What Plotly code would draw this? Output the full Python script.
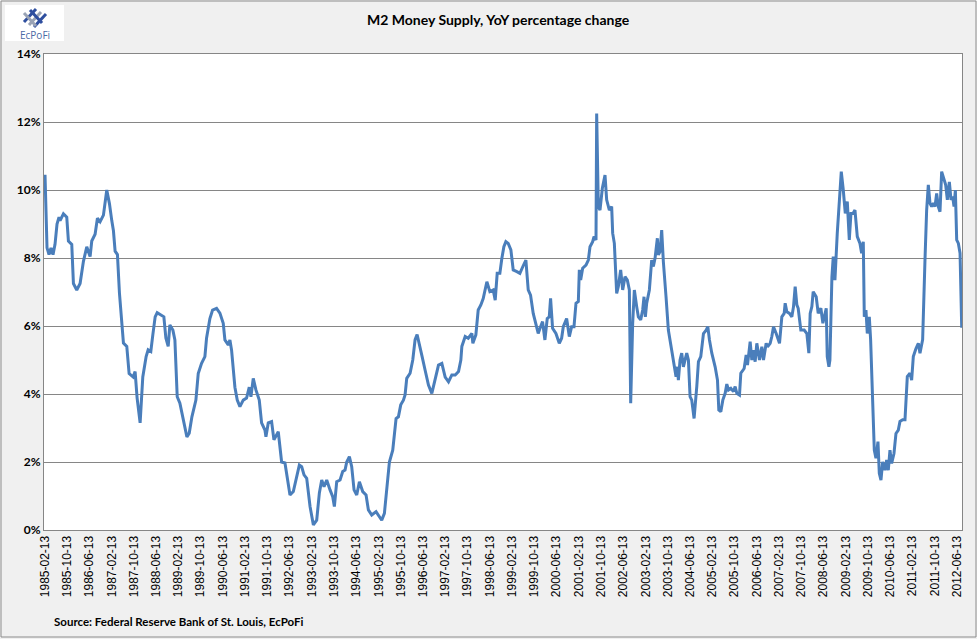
import pandas as pd
import plotly.graph_objects as go

# Decimal years of the readings and M2 YoY % change
years = [
    1985.118, 1985.148, 1985.178, 1985.238, 1985.298, 1985.358, 1985.418, 1985.478, 1985.538,
    1985.57, 1985.67, 1985.77, 1985.82, 1985.92, 1985.97, 1986.07, 1986.17, 1986.27, 1986.37,
    1986.47, 1986.52, 1986.62, 1986.69, 1986.77, 1986.87, 1986.97, 1987.05, 1987.12, 1987.17,
    1987.22, 1987.29, 1987.35, 1987.47, 1987.57, 1987.64, 1987.76, 1987.82, 1987.88, 1987.97,
    1988.05, 1988.15, 1988.21, 1988.29, 1988.35, 1988.42, 1988.48, 1988.62, 1988.68, 1988.74,
    1988.81, 1988.86, 1988.95, 1989.01, 1989.08, 1989.16, 1989.26, 1989.37, 1989.44, 1989.52,
    1989.64, 1989.71, 1989.81, 1989.91, 1989.96, 1990.06, 1990.14, 1990.26, 1990.36,
    1990.46, 1990.51, 1990.61, 1990.66, 1990.71, 1990.81, 1990.88, 1990.96, 1991.06, 1991.16,
    1991.24, 1991.29, 1991.36, 1991.44, 1991.54, 1991.61, 1991.71, 1991.74, 1991.81, 1991.91,
    1991.98, 1992.11, 1992.21, 1992.31, 1992.38, 1992.46, 1992.56, 1992.66, 1992.74, 1992.81,
    1992.88, 1992.96, 1993.06, 1993.16, 1993.26, 1993.34, 1993.41, 1993.48, 1993.56, 1993.66,
    1993.74, 1993.79, 1993.86, 1993.96, 1994.04, 1994.11, 1994.16, 1994.24, 1994.31, 1994.38,
    1994.46, 1994.54,
    1994.64, 1994.74, 1994.81, 1994.91, 1995.04, 1995.14, 1995.21, 1995.29, 1995.36, 1995.44,
    1995.54, 1995.64, 1995.71, 1995.78, 1995.86, 1995.91, 1995.96, 1996.06, 1996.14, 1996.21,
    1996.27, 1996.34, 1996.42, 1996.51, 1996.61, 1996.71, 1996.81, 1996.91, 1997.01, 1997.11,
    1997.21, 1997.31, 1997.41, 1997.51, 1997.58,
    1997.61, 1997.71, 1997.80, 1997.91, 1997.94, 1998.03, 1998.10, 1998.18, 1998.25, 1998.36,
    1998.45, 1998.55, 1998.61, 1998.67, 1998.75, 1998.81, 1998.87, 1998.93, 1999.00, 1999.08,
    1999.15, 1999.26, 1999.35, 1999.44, 1999.53, 1999.60, 1999.67, 1999.75, 1999.83, 1999.90,
    1999.97, 2000.03, 2000.10, 2000.17, 2000.23, 2000.27, 2000.33, 2000.43, 2000.53, 2000.60,
    2000.65, 2000.75, 2000.83, 2000.90, 2000.97, 2001.03, 2001.10, 2001.13, 2001.17, 2001.23,
    2001.33, 2001.40, 2001.45, 2001.53, 2001.57, 2001.63, 2001.65, 2001.70, 2001.75, 2001.82,
    2001.90, 2001.95, 2002.03, 2002.10, 2002.13, 2002.18, 2002.25, 2002.30, 2002.37, 2002.43,
    2002.50, 2002.57, 2002.63, 2002.67, 2002.73, 2002.78, 2002.85, 2002.90, 2002.97, 2003.03,
    2003.07, 2003.11, 2003.15, 2003.23, 2003.30, 2003.35, 2003.40, 2003.47, 2003.50, 2003.55,
    2003.60, 2003.65, 2003.73, 2003.80, 2003.90, 2003.97, 2004.03, 2004.07, 2004.10, 2004.15,
    2004.20, 2004.25, 2004.30, 2004.35, 2004.40, 2004.45, 2004.50, 2004.57, 2004.65, 2004.70,
    2004.77, 2004.85, 2004.93, 2004.98, 2005.03, 2005.10, 2005.20, 2005.27, 2005.31, 2005.37,
    2005.43, 2005.50, 2005.55, 2005.60, 2005.67, 2005.75, 2005.80, 2005.85, 2005.93, 2005.97,
    2006.07, 2006.13, 2006.17, 2006.25, 2006.30, 2006.35, 2006.40, 2006.45, 2006.53, 2006.60,
    2006.65, 2006.73, 2006.77, 2006.85, 2006.90, 2006.95, 2007.03, 2007.13, 2007.20, 2007.27,
    2007.30, 2007.35, 2007.43, 2007.50, 2007.55, 2007.60, 2007.65, 2007.69, 2007.77, 2007.87,
    2007.95, 2008.01, 2008.05, 2008.10, 2008.14, 2008.23, 2008.29, 2008.37, 2008.43, 2008.53,
    2008.56, 2008.61, 2008.64, 2008.70, 2008.74, 2008.79, 2008.86, 2008.92, 2008.98, 2009.04,
    2009.10, 2009.16, 2009.22, 2009.27, 2009.33, 2009.39, 2009.46, 2009.54, 2009.59, 2009.64,
    2009.67, 2009.72, 2009.76, 2009.82, 2009.86, 2009.92, 2009.97, 2010.02, 2010.08, 2010.12,
    2010.17, 2010.22, 2010.29, 2010.34, 2010.39, 2010.44, 2010.49, 2010.56, 2010.62, 2010.69,
    2010.74, 2010.82, 2010.89, 2010.96, 2011.04, 2011.09, 2011.14, 2011.22, 2011.29, 2011.34,
    2011.42, 2011.49, 2011.54, 2011.59, 2011.64, 2011.69, 2011.74, 2011.79, 2011.84, 2011.89,
    2011.94, 2011.99, 2012.04, 2012.11, 2012.16, 2012.22, 2012.27, 2012.32, 2012.36, 2012.40,
    2012.44, 2012.49, 2012.54, 2012.59,
]

yoy = [
    10.45, 9.5, 8.3, 8.1, 8.3, 8.1, 8.4, 9.0, 9.2,
    9.1, 9.3, 9.2, 8.5, 8.4, 7.25, 7.06, 7.25, 7.9, 8.33,
    8.04, 8.5, 8.7, 9.17, 9.07, 9.26, 10.0, 9.6, 9.1, 8.8,
    8.2, 8.1, 6.97, 5.5, 5.4, 4.6, 4.5, 4.66, 3.88, 3.15,
    4.5, 5.1, 5.3, 5.25, 5.74, 6.27, 6.39, 6.32, 6.27, 5.65,
    5.4, 6.03, 5.88, 5.59, 3.92, 3.73, 3.24, 2.74, 2.85, 3.33,
    3.82, 4.6, 4.9, 5.1, 5.65, 6.22, 6.47, 6.52, 6.38,
    6.08, 5.59, 5.44, 5.59, 5.29, 4.2, 3.82, 3.63, 3.82, 3.88,
    4.2, 3.92, 4.46, 4.12, 3.82, 3.15, 2.94, 2.74, 3.15, 3.19,
    2.65, 2.89, 2.0, 1.97, 1.57, 1.03, 1.13, 1.57, 1.91, 1.86,
    1.62, 1.52, 0.69, 0.15, 0.29, 1.09, 1.47, 1.27, 1.47, 1.18,
    0.98, 0.69, 1.42, 1.47, 1.72, 1.76, 2.0, 2.16, 1.86, 1.18,
    1.03, 1.42,
    1.13, 1.03, 0.59, 0.44, 0.54, 0.39, 0.29, 0.49, 1.18, 2.0,
    2.35, 3.28, 3.33, 3.68, 3.82, 3.97, 4.46, 4.61, 5.0, 5.6,
    5.75, 5.4, 5.1, 4.7, 4.26, 4.02, 4.41, 4.85, 4.9, 4.5,
    4.36, 4.56, 4.56, 4.66, 5.0,
    5.4, 5.69, 5.64, 5.78, 5.49, 5.74, 6.47, 6.62, 6.81, 7.3,
    7.01, 7.06, 6.76, 7.55, 7.55, 7.99, 8.33, 8.48, 8.43, 8.24,
    7.65, 7.6, 7.55, 7.75, 7.94, 7.06, 6.91, 6.37, 6.08, 5.78,
    5.98, 6.13, 5.59, 6.22, 6.27, 6.81, 5.93, 5.78, 5.49, 5.64,
    5.98, 6.22, 5.69, 5.98, 5.98, 6.67, 6.72, 7.65, 7.35, 7.7,
    7.79, 7.94, 8.33, 8.48, 8.63, 8.53, 12.25, 9.51, 9.41, 10.05,
    10.44, 9.71, 9.41, 9.51, 8.73, 8.43, 6.96, 7.16, 7.65, 7.06,
    7.45, 7.35, 7.06, 3.73, 6.08, 7.06, 6.57, 6.27, 6.18, 6.47,
    6.86, 6.27, 6.67, 7.06, 7.94, 7.75, 7.99, 8.58, 8.09, 8.19,
    8.82, 7.89, 6.86, 5.88, 5.29, 4.8, 4.51, 4.8, 4.41, 5.0,
    5.2, 4.8, 5.0, 5.2, 5.0, 3.92, 3.82, 3.28, 4.22, 4.95,
    5.1, 5.78, 5.88, 5.98, 5.59, 5.2, 4.8, 4.41, 3.53, 3.48,
    3.82, 4.02, 4.29, 4.12, 4.17, 4.07, 4.22, 4.02, 3.97, 4.61,
    4.75, 5.15, 4.85, 5.54, 5.0, 5.29, 4.95, 5.49, 5.0, 5.39,
    5.0, 5.49, 5.39, 5.49, 5.69, 5.98, 5.78, 5.49, 6.27, 6.37,
    6.67, 6.42, 6.37, 6.27, 6.57, 7.16, 6.62, 6.52, 5.88, 5.88,
    5.78, 5.2, 6.37, 6.57, 7.01, 6.86, 6.37, 6.52, 6.08, 6.52,
    5.1, 4.8, 5.0, 7.45, 8.04, 7.35, 8.73, 9.51, 10.54, 10.0,
    9.31, 9.66, 8.53, 9.31, 9.31, 9.41, 8.63, 8.43, 8.14, 8.48,
    6.27, 6.47, 5.78, 6.27, 5.59, 3.82, 2.35, 2.11, 2.6, 1.67,
    1.47, 2.0, 1.76, 2.06, 1.76, 2.35, 1.96, 2.25, 2.84, 2.94,
    3.19, 3.24, 3.24, 4.51, 4.61, 4.41, 5.1, 5.34, 5.49, 5.2,
    5.6, 7.94, 9.41, 10.15, 9.61, 9.51, 9.61, 9.51, 9.9, 9.51,
    9.36, 10.54, 10.39, 10.15, 9.71, 10.24, 9.71, 9.8, 9.51, 10.0,
    8.53, 8.43, 8.14, 5.95,
]

tick_labels = [
    "1985-02-13", "1985-10-13", "1986-06-13", "1987-02-13", "1987-10-13", "1988-06-13",
    "1989-02-13", "1989-10-13", "1990-06-13", "1991-02-13", "1991-10-13", "1992-06-13",
    "1993-02-13", "1993-10-13", "1994-06-13", "1995-02-13", "1995-10-13", "1996-06-13",
    "1997-02-13", "1997-10-13", "1998-06-13", "1999-02-13", "1999-10-13", "2000-06-13",
    "2001-02-13", "2001-10-13", "2002-06-13", "2003-02-13", "2003-10-13", "2004-06-13",
    "2005-02-13", "2005-10-13", "2006-06-13", "2007-02-13", "2007-10-13", "2008-06-13",
    "2009-02-13", "2009-10-13", "2010-06-13", "2011-02-13", "2011-10-13", "2012-06-13",
]

title_text = "M2 Money Supply, YoY percentage change"
source_text = "Source: Federal Reserve Bank of St. Louis, EcPoFi"


def to_date(y):
    yr = int(y)
    start = pd.Timestamp(yr, 1, 1)
    end = pd.Timestamp(yr + 1, 1, 1)
    return start + (end - start) * (y - yr)


dates = [to_date(y) for y in years]

fig = go.Figure()
fig.add_trace(go.Scatter(
    x=dates, y=yoy, mode="lines",
    line=dict(color="#4a7ebb", width=3),
    hoverinfo="x+y", showlegend=False,
))

W, H = 977, 639
L, R, T, B = 44, 15, 54, 109
pw, ph = W - L - R, H - T - B


def px(xp):
    return (xp - L) / pw


def py(yp):
    return (H - B - yp) / ph


shapes = [
    # outer chart border
    dict(type="rect", xref="paper", yref="paper", x0=px(1), x1=px(976), y0=py(637), y1=py(1),
         line=dict(color="#8c8c8c", width=1), layer="below"),
    # logo box
    dict(type="rect", xref="paper", yref="paper", x0=px(5), x1=px(64), y0=py(41), y1=py(5),
         line=dict(width=0), fillcolor="white", layer="below"),
]
# simple logo glyph
for (x0, y0, x1, y1, c) in [
    (24, 22, 36, 9, "#2f4f9f"), (29, 25, 41, 12, "#9aa3b5"), (34, 27, 46, 14, "#2f4f9f"),
    (24, 13, 36, 26, "#9aa3b5"), (30, 10, 42, 23, "#2f4f9f"),
]:
    shapes.append(dict(type="line", xref="paper", yref="paper",
                       x0=px(x0), y0=py(y0), x1=px(x1), y1=py(y1),
                       line=dict(color=c, width=3)))

annotations = [
    dict(text=title_text, xref="paper", yref="paper", x=px(498), y=py(19),
         showarrow=False, font=dict(family="Lato", size=14, color="black", weight="bold"),
         xanchor="center", yanchor="middle"),
    dict(text=source_text, xref="paper", yref="paper", x=px(52), y=py(621),
         showarrow=False, font=dict(family="Lato", size=11.5, color="black", weight="bold"),
         xanchor="left", yanchor="middle"),
    dict(text="EcPoFi", xref="paper", yref="paper", x=px(34.5), y=py(35),
         showarrow=False, font=dict(family="Open Sans", size=10, color="#4a6aa5"),
         xanchor="center", yanchor="middle"),
]

fig.update_layout(
    width=W, height=H,
    margin=dict(l=L, r=R, t=T, b=B, pad=0),
    paper_bgcolor="#f0f0f0",
    plot_bgcolor="white",
    shapes=shapes,
    annotations=annotations,
    xaxis=dict(
        type="date",
        range=["1985-02-02", "2012-08-07"],
        tickvals=tick_labels, ticktext=tick_labels,
        tickangle=-90,
        tickfont=dict(family="Liberation Sans", size=12, color="black"),
        showgrid=False, showline=True, linecolor="#868686", linewidth=1, mirror=True,
        ticks="", zeroline=False,
    ),
    yaxis=dict(
        range=[0, 14], dtick=2, tickformat="d", ticksuffix="%",
        tickfont=dict(family="Lato", size=12, color="black", weight="bold"),
        showgrid=True, gridcolor="#868686", gridwidth=1,
        showline=True, linecolor="#868686", linewidth=1, mirror=True,
        ticks="", zeroline=False,
    ),
)

fig.write_html(
    "out.html",
    config={"displayModeBar": False},
    post_script="document.body.style.margin='0';document.body.style.overflow='hidden';",
)
